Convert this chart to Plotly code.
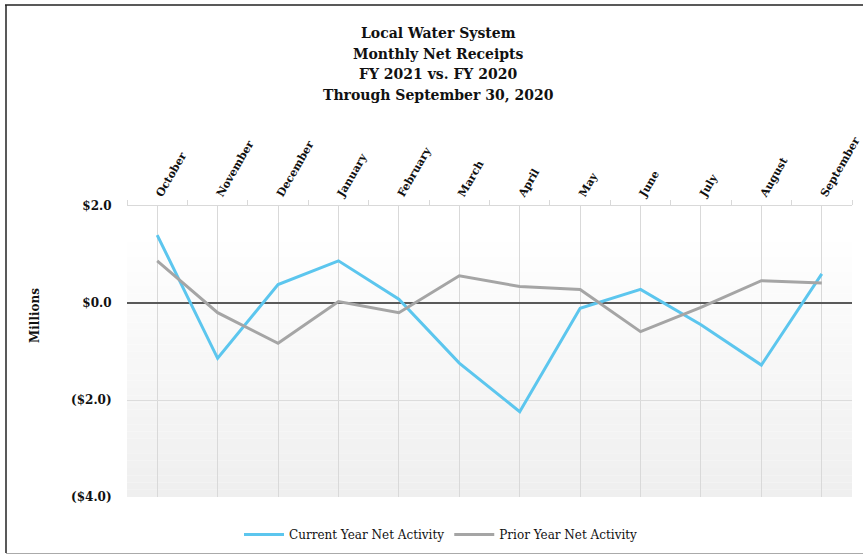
import plotly.graph_objects as go

months = ["October", "November", "December", "January", "February", "March",
          "April", "May", "June", "July", "August", "September"]
current_year = [1.40, -1.14, 0.38, 0.87, 0.08, -1.24, -2.24, -0.11, 0.28, -0.45, -1.28, 0.60]
prior_year = [0.87, -0.20, -0.83, 0.03, -0.20, 0.56, 0.34, 0.28, -0.59, -0.09, 0.46, 0.41]
y_ticks = [2, 0, -2, -4]
y_tick_labels = ["$2.0", "$0.0", "($2.0)", "($4.0)"]
title_lines = ["Local Water System", "Monthly Net Receipts",
               "FY 2021 vs. FY 2020", "Through September 30, 2020"]

FONT = "DejaVu Serif"
W, H = 863, 555
L, R, T, B = 127, 11, 206, 58
PW, PH = W - L - R, H - T - B


def px(x):
    return (x - L) / PW


def py(y):
    return (H - B - y) / PH


fig = go.Figure()

fig.add_trace(go.Scatter(x=months, y=current_year, mode="lines",
                         name="Current Year Net Activity",
                         line=dict(color="#5cc6ee", width=3)))
fig.add_trace(go.Scatter(x=months, y=prior_year, mode="lines",
                         name="Prior Year Net Activity",
                         line=dict(color="#a5a5a5", width=3)))
# invisible trace carrying boundary tick marks on a twin axis
fig.add_trace(go.Scatter(x=months, y=prior_year, xaxis="x2", mode="lines",
                         line=dict(width=0), opacity=0, showlegend=False,
                         hoverinfo="skip"))

# vertical gradient background
n = 40
shapes = []
for i in range(n):
    t = i / (n - 1)
    y0 = 2 - 6 * i / n
    y1 = 2 - 6 * (i + 1) / n
    c = int(round(255 - 16 * max(0.0, (t - 0.08) / 0.92)))
    shapes.append(dict(type="rect", xref="x domain", yref="y", x0=0, x1=1,
                       y0=y0, y1=y1, fillcolor=f"rgb({c},{c},{c})",
                       line=dict(width=0), layer="below"))
# outer frame
shapes.append(dict(type="line", xref="paper", yref="paper",
                   x0=px(5), x1=px(863), y0=py(5), y1=py(5),
                   line=dict(color="#222", width=1.5), layer="above"))
shapes.append(dict(type="line", xref="paper", yref="paper",
                   x0=px(6), x1=px(6), y0=py(5), y1=py(553),
                   line=dict(color="#222", width=1.5), layer="above"))
shapes.append(dict(type="line", xref="paper", yref="paper",
                   x0=px(6), x1=px(863), y0=py(553.5), y1=py(553.5),
                   line=dict(color="#aaaaaa", width=1), layer="above"))
fig.update_layout(shapes=shapes)

for text, yc in zip(title_lines, [33, 54, 74, 95]):
    fig.add_annotation(text=f"<b>{text}</b>", xref="paper", yref="paper",
                       x=px(438), y=py(yc), showarrow=False,
                       xanchor="center", yanchor="middle",
                       font=dict(family=FONT, size=14, color="#111"))

fig.add_annotation(text="<b>Millions</b>", xref="paper", yref="paper",
                   x=px(35), y=py(316), textangle=-90, showarrow=False,
                   xanchor="center", yanchor="middle",
                   font=dict(family=FONT, size=12, color="#111"))

fig.update_layout(
    width=W, height=H,
    margin=dict(l=L, r=R, t=T, b=B, autoexpand=False),
    paper_bgcolor="white", plot_bgcolor="white",
    font=dict(family=FONT, color="#1a1a1a"),
    xaxis=dict(type="category", categoryarray=months, side="top",
               range=[-0.5, 11.5], tickangle=-60, automargin=False,
               tickfont=dict(family=FONT, size=11, color="#111", weight="bold"),
               showgrid=True, gridcolor="#d9d9d9", gridwidth=1,
               showline=True, linecolor="#d9d9d9", linewidth=1,
               ticks="", zeroline=False, fixedrange=True),
    xaxis2=dict(type="category", categoryarray=months, overlaying="x", side="top",
                range=[-0.5, 11.5], tickson="boundaries", ticks="outside",
                ticklen=5, tickcolor="#d9d9d9", showticklabels=False,
                showgrid=False, showline=False, zeroline=False, automargin=False),
    yaxis=dict(range=[-4, 2], tickvals=y_ticks, ticktext=y_tick_labels,
               automargin=False,
               tickfont=dict(family=FONT, size=12, color="#111", weight="bold"),
               showgrid=True, gridcolor="#dcdcdc", gridwidth=1,
               zeroline=True, zerolinecolor="#5a5a5a", zerolinewidth=2,
               ticks="outside", ticklen=12, tickcolor="rgba(0,0,0,0)"),
    legend=dict(orientation="h", x=px(441), xanchor="center", y=py(520), yanchor="top",
                font=dict(family=FONT, size=12, color="#111"),
                itemwidth=40, bgcolor="rgba(0,0,0,0)"),
    showlegend=True,
)

fig.write_html("out.html", config={"displayModeBar": False},
               post_script="document.body.style.margin='0';document.body.style.padding='0';")
